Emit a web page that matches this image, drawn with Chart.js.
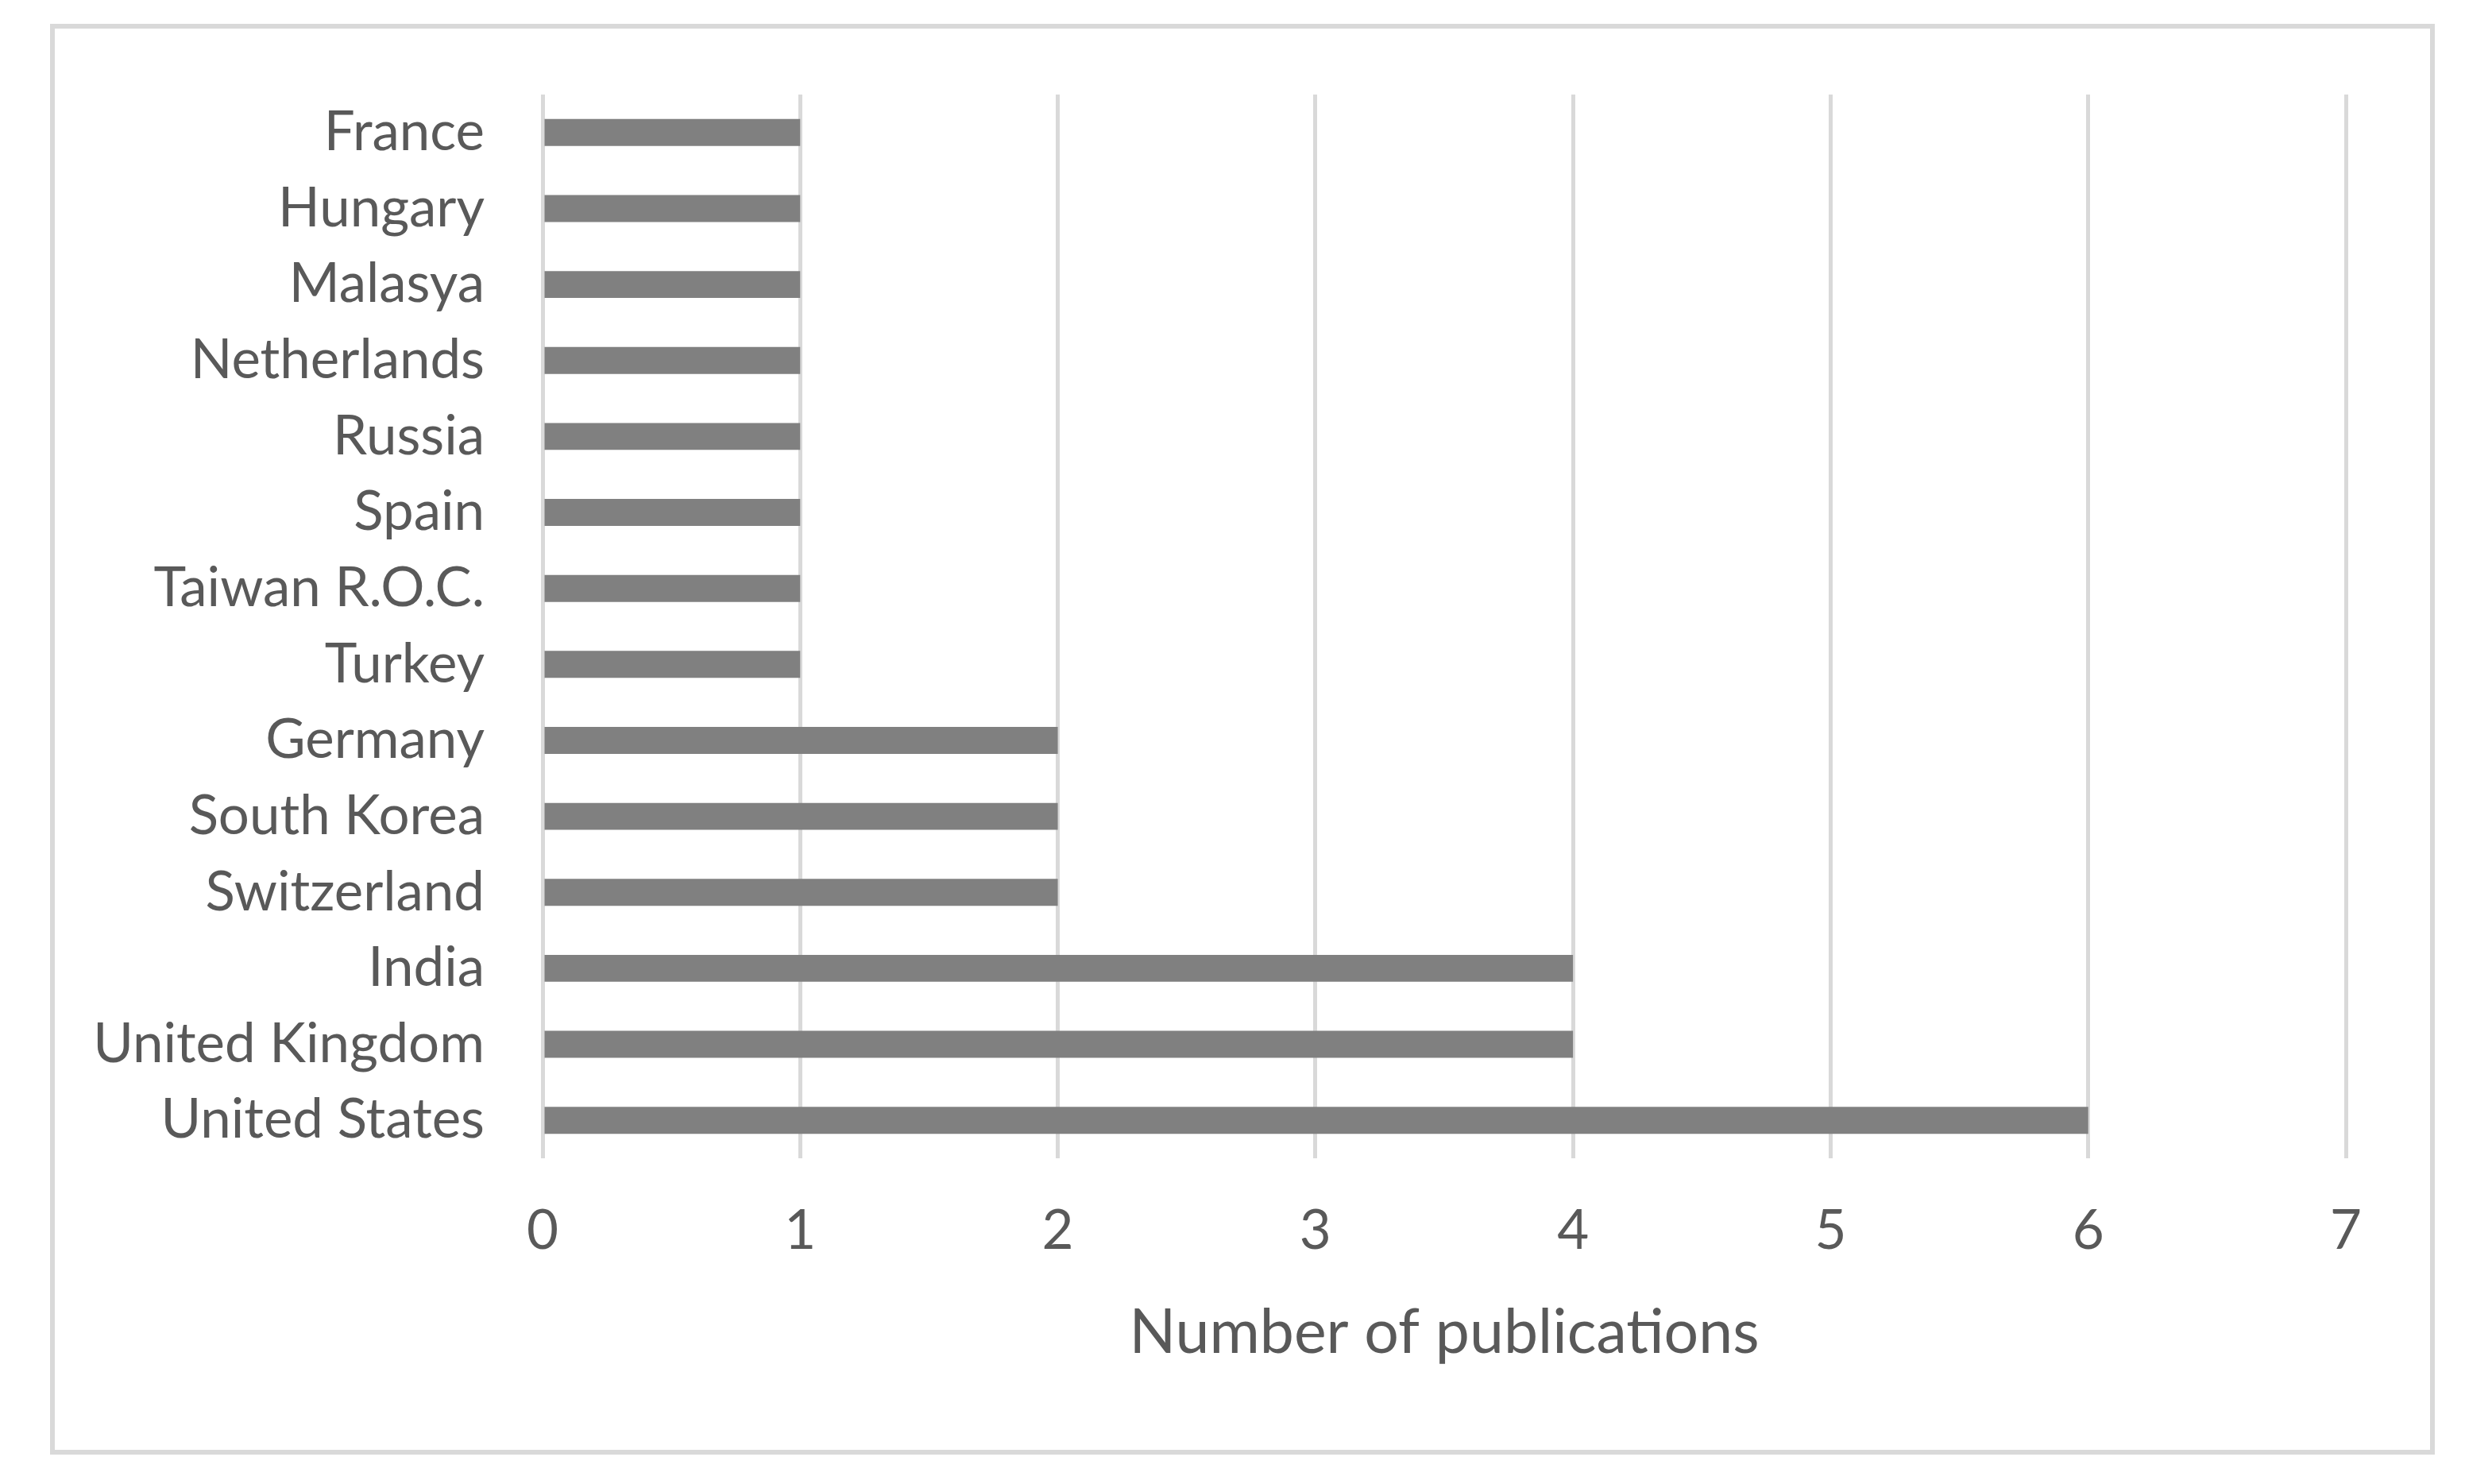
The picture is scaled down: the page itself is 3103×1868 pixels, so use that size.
<!DOCTYPE html>
<html>
<head>
<meta charset="utf-8">
<script src="https://cdn.jsdelivr.net/npm/chart.js@4/dist/chart.umd.min.js"></script>
<style>
  html, body { margin: 0; padding: 0; background: #ffffff; }
  #wrap { width: 3103px; height: 1868px; }
</style>
</head>
<body>
<div id="wrap"><canvas id="myChart" width="3103" height="1868"></canvas></div>
<script>
const countries = [
    'France', 'Hungary', 'Malasya', 'Netherlands', 'Russia', 'Spain',
    'Taiwan R.O.C.', 'Turkey', 'Germany', 'South Korea', 'Switzerland',
    'India', 'United Kingdom', 'United States'
];
const publications = [1, 1, 1, 1, 1, 1, 1, 1, 2, 2, 2, 4, 4, 6];
const xTicks = [0, 1, 2, 3, 4, 5, 6, 7];
const xTitle = 'Number of publications';

const textColor = '#595959';
const gridColor = '#d9d9d9';

// outer frame like the Excel chart area
const frame = {
    id: 'frame',
    beforeDraw(chart) {
        const ctx = chart.ctx;
        ctx.save();
        ctx.fillStyle = '#ffffff';
        ctx.fillRect(0, 0, chart.width, chart.height);
        ctx.strokeStyle = gridColor;
        ctx.lineWidth = 6;
        ctx.strokeRect(66, 33, 2996, 1795);
        ctx.restore();
    }
};

const ctx = document.getElementById('myChart').getContext('2d');
const chartInstance = new Chart(ctx, {
    type: 'bar',
    data: {
        labels: countries,
        datasets: [{
            label: xTitle,
            data: publications,
            backgroundColor: '#808080',
            borderWidth: 0,
            barPercentage: 0.355,
            categoryPercentage: 1
        }]
    },
    options: {
        indexAxis: 'y',
        responsive: false,
        animation: false,
        layout: {
            padding: { left: 0, top: 119, right: 150, bottom: 0 }
        },
        scales: {
            x: {
                min: 0,
                max: 7,
                afterBuildTicks(scale) {
                    scale.ticks = xTicks.map(v => ({ value: v }));
                },
                afterFit(scale) {
                    scale.height = 410;
                },
                grid: {
                    color: gridColor,
                    lineWidth: 5,
                    drawTicks: false
                },
                border: { display: false },
                ticks: {
                    color: textColor,
                    font: { family: 'Lato', size: 69 },
                    padding: 50
                },
                title: {
                    display: true,
                    text: xTitle,
                    color: textColor,
                    font: { family: 'Lato', size: 77 },
                    padding: { top: 0, bottom: 144 }
                }
            },
            y: {
                afterFit(scale) {
                    scale.width = 683;
                },
                grid: { display: false, drawTicks: false },
                border: { display: false },
                ticks: {
                    color: textColor,
                    font: { family: 'Lato', size: 69 },
                    padding: 73
                }
            }
        },
        plugins: {
            legend: { display: false },
            tooltip: { enabled: false }
        }
    },
    plugins: [frame]
});
</script>
</body>
</html>
